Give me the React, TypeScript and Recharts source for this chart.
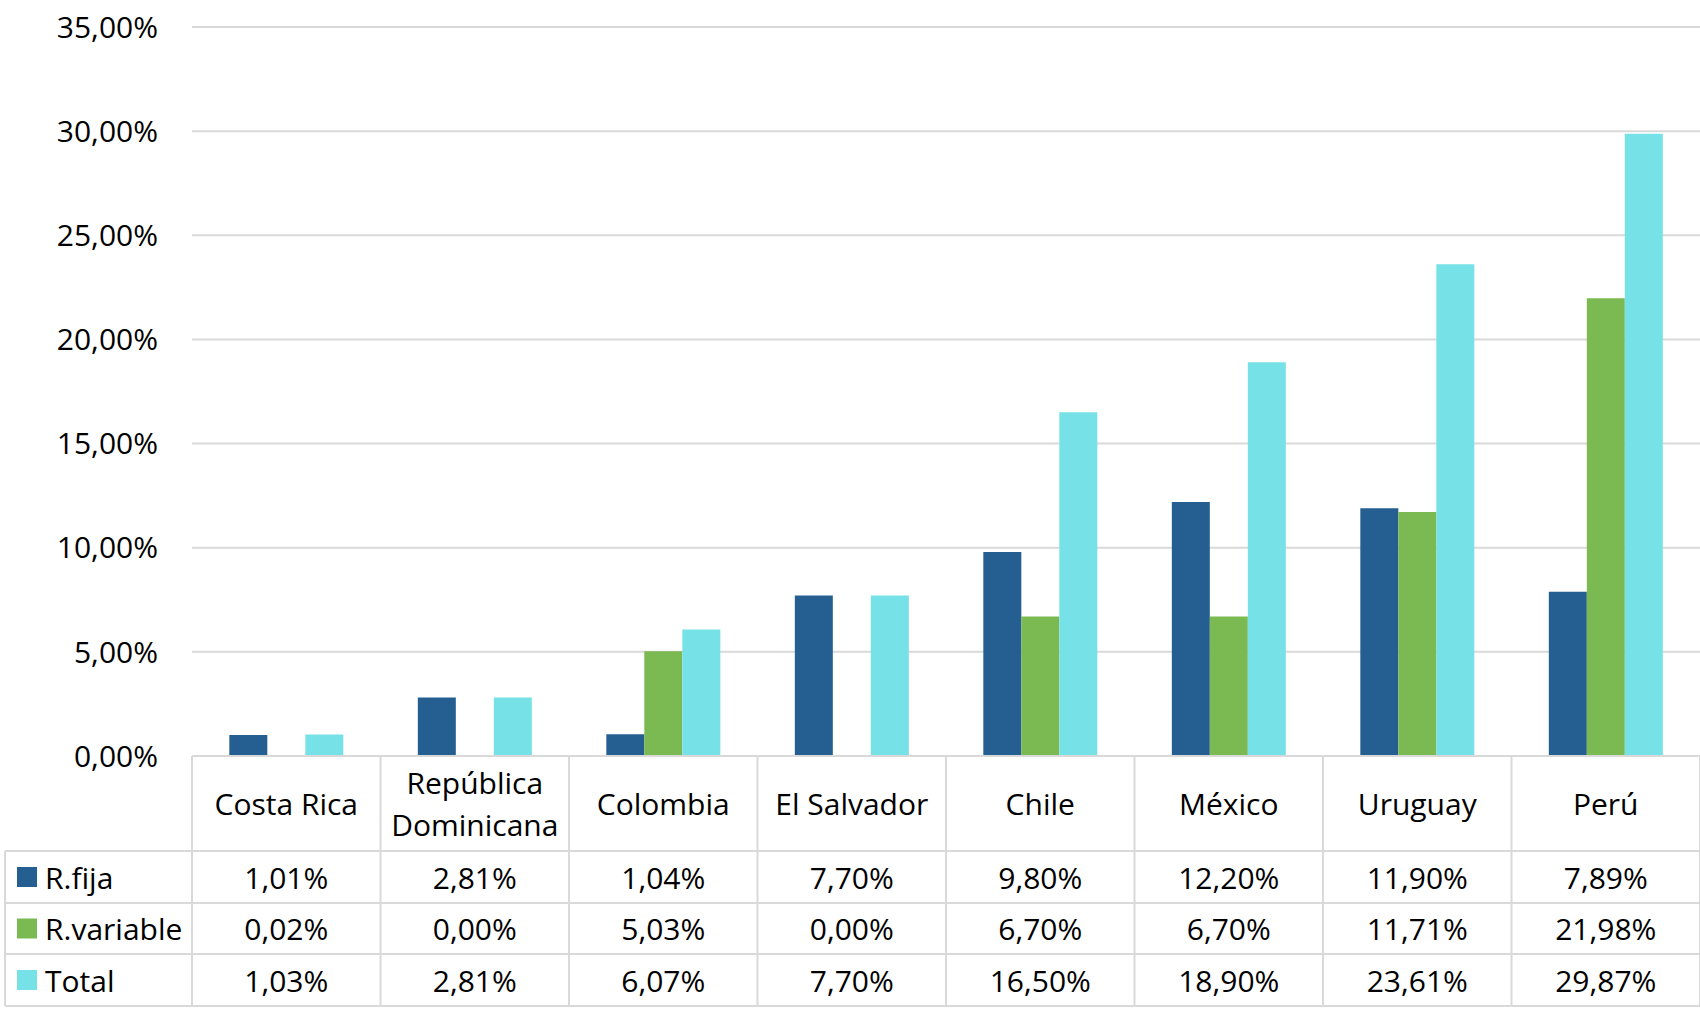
import { BarChart, Bar, XAxis, YAxis, CartesianGrid } from "recharts";

// countries (x axis) and the three series, in percent
const categories = [
  "Costa Rica",
  "República\nDominicana",
  "Colombia",
  "El Salvador",
  "Chile",
  "México",
  "Uruguay",
  "Perú",
];
const rFija = [1.01, 2.81, 1.04, 7.7, 9.8, 12.2, 11.9, 7.89];
const rVariable = [0.02, 0.0, 5.03, 0.0, 6.7, 6.7, 11.71, 21.98];
const total = [1.03, 2.81, 6.07, 7.7, 16.5, 18.9, 23.61, 29.87];
const yTicks = [0, 5, 10, 15, 20, 25, 30, 35];

const series = [
  { key: "fija", name: "R.fija", color: "#255E91", values: rFija },
  { key: "variable", name: "R.variable", color: "#7BB952", values: rVariable },
  { key: "total", name: "Total", color: "#76E1E6", values: total },
];

const data = categories.map((c, i) => ({
  name: c,
  fija: rFija[i],
  variable: rVariable[i],
  total: total[i],
}));

const W = 1700;
const H = 1009;
const AXIS_W = 192;
const COL_W = (W - AXIS_W) / categories.length;
const LABEL_LEFT = 5;
const GRID = "#D9D9D9";
const FONT = 30;
// row boundaries below the x axis line (header, then one row per series)
const ROWS = [0, 95, 147, 198, 250];

const pct = (v: number) => v.toFixed(2).replace(".", ",") + "%";

function TableColumn(props: any) {
  const { x, y, index } = props;
  const left = x - COL_W / 2;
  const right = x + COL_W / 2;
  const lines = categories[index].split("\n");
  const headMid = y + ROWS[1] / 2;
  const lineGap = 42;
  return (
    <g>
      {/* column borders */}
      <line x1={left} x2={left} y1={y} y2={y + ROWS[4]} stroke={GRID} strokeWidth={2} />
      {index === categories.length - 1 && (
        <line x1={right} x2={right} y1={y} y2={y + ROWS[4]} stroke={GRID} strokeWidth={2} />
      )}
      {ROWS.slice(1).map((r) => (
        <line key={r} x1={left} x2={right} y1={y + r} y2={y + r} stroke={GRID} strokeWidth={2} />
      ))}
      {lines.map((l, i) => (
        <text
          key={i}
          x={x}
          y={headMid + (i - (lines.length - 1) / 2) * lineGap}
          textAnchor="middle"
          dominantBaseline="central"
          fontSize={FONT}
          fill="#000"
        >
          {l}
        </text>
      ))}
      {series.map((s, r) => (
        <text
          key={s.key}
          x={x}
          y={y + (ROWS[r + 1] + ROWS[r + 2]) / 2}
          textAnchor="middle"
          dominantBaseline="central"
          fontSize={FONT}
          fill="#000"
        >
          {pct(s.values[index])}
        </text>
      ))}
      {/* row labels column with legend keys */}
      {index === 0 && (
        <g>
          <line x1={LABEL_LEFT} x2={LABEL_LEFT} y1={y + ROWS[1]} y2={y + ROWS[4]} stroke={GRID} strokeWidth={2} />
          {ROWS.slice(1).map((r) => (
            <line key={r} x1={LABEL_LEFT} x2={left} y1={y + r} y2={y + r} stroke={GRID} strokeWidth={2} />
          ))}
          {series.map((s, r) => {
            const cy = y + (ROWS[r + 1] + ROWS[r + 2]) / 2;
            return (
              <g key={s.key}>
                <rect x={LABEL_LEFT + 12} y={cy - 10} width={20} height={20} fill={s.color} />
                <text x={LABEL_LEFT + 40} y={cy} dominantBaseline="central" fontSize={FONT} fill="#000">
                  {s.name}
                </text>
              </g>
            );
          })}
        </g>
      )}
    </g>
  );
}

export default function App() {
  return (
    <div
      style={{
        position: "absolute",
        left: 0,
        top: 0,
        width: W,
        height: H,
        background: "#fff",
        fontFamily: "'Open Sans', sans-serif",
      }}
    >
      <BarChart
        width={W}
        height={H}
        data={data}
        margin={{ top: 27, right: 0, bottom: 3, left: 0 }}
        barCategoryGap="19.8%"
        barGap={0}
      >
        <CartesianGrid vertical={false} stroke={GRID} strokeWidth={2} />
        <YAxis
          width={AXIS_W}
          domain={[0, 35]}
          ticks={yTicks}
          interval={0}
          axisLine={false}
          tickLine={false}
          tickSize={0}
          tickMargin={34}
          tickFormatter={pct}
          tick={{ fontSize: FONT, fill: "#000" }}
        />
        <XAxis
          dataKey="name"
          height={ROWS[4]}
          interval={0}
          tickLine={false}
          tickSize={0}
          tickMargin={0}
          axisLine={{ stroke: GRID, strokeWidth: 2 }}
          tick={<TableColumn />}
        />
        {series.map((s) => (
          <Bar key={s.key} dataKey={s.key} name={s.name} fill={s.color} isAnimationActive={false} />
        ))}
      </BarChart>
    </div>
  );
}
